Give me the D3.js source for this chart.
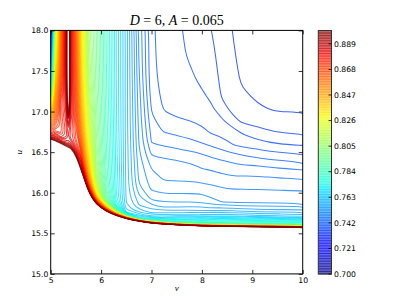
<!DOCTYPE html>
<html>
<head>
<meta charset="utf-8">
<script src="https://cdn.jsdelivr.net/npm/d3@7"></script>
<style>
  body { margin: 0; background: #fff; }
  text { font-family: "DejaVu Sans", sans-serif; }
</style>
</head>
<body>
<svg width="407" height="305"></svg>
<script>
// contour levels: 96 levels from 0.70 to 0.90
const levelMin = 0.7, levelMax = 0.9, levelCount = 96;

const xTicks = [5, 6, 7, 8, 9, 10];
const yTicks = [15.0, 15.5, 16.0, 16.5, 17.0, 17.5, 18.0];
const cbarTicks = [0.700, 0.721, 0.742, 0.763, 0.784, 0.805, 0.826, 0.847, 0.868, 0.889];

// lower edge of the contoured region (the dark red 0.9 line)
const edgeV = [4.9, 5.0, 5.1, 5.2, 5.3, 5.4, 5.5, 5.6, 5.7, 5.8, 5.9, 6.0, 6.25, 6.5, 6.75, 7.0, 7.5, 8.0, 9.0, 10.1];
const edgeU = [16.67, 16.66, 16.64, 16.61, 16.575, 16.55, 16.46, 16.29, 16.07, 15.94, 15.855, 15.80, 15.73, 15.68, 15.65, 15.625, 15.605, 15.592, 15.582, 15.575];

// field estimated on v columns; rows are heights above that edge
const gridV = [4.9, 5.0, 5.05, 5.1, 5.2, 5.3, 5.35, 5.4, 5.5, 5.6, 5.75, 5.9, 6.1, 6.3, 6.5, 6.75,
               7.0, 7.25, 7.5, 7.75, 8.0, 8.2, 8.4, 8.6, 8.8, 9.1, 9.5, 10.1];
const gridH = [-0.05, 0, 0.015, 0.04, 0.08, 0.13, 0.2, 0.3, 0.42, 0.55, 0.7, 0.85, 1.0, 1.15, 1.3, 1.45, 1.6, 1.8, 2.1, 2.6];

const fieldByV = [
  [.9316, .8992, .8916, .8821, .8716, .8621, .8516, .8389, .8158, .7737, .7421, .7253, .7168, .7105, .7042, .6958, .6832, .6684, .6474, .6368],
  [.9316, .8992, .8926, .8842, .8747, .8663, .8579, .8474, .8263, .7884, .7589, .7421, .7316, .7253, .7189, .7105, .7000, .6895, .6684, .6579],
  [.9316, .8992, .8937, .8863, .8779, .8705, .8632, .8547, .8432, .8263, .8053, .7905, .7800, .7716, .7632, .7547, .7421, .7253, .7105, .7000],
  [.9316, .8992, .8947, .8884, .8811, .8747, .8684, .8621, .8558, .8495, .8432, .8368, .8305, .8253, .8200, .8137, .8074, .8011, .7926, .7842],
  [.9316, .8992, .8937, .8863, .8789, .8747, .8737, .8747, .8758, .8737, .8684, .8642, .8611, .8589, .8579, .8568, .8558, .8547, .8537, .8516],
  [.9316, .8992, .8947, .8884, .8842, .8800, .8800, .8811, .8832, .8853, .8869, .8878, .8882, .8884, .8880, .8878, .8874, .8874, .8874, .8874],
  [.9316, .8992, .8958, .8905, .8853, .8832, .8842, .8905, .9011, .9084, .9105, .9126, .9126, .9126, .9126, .9126, .9126, .9126, .9126, .9126],
  [.9316, .8992, .8947, .8884, .8842, .8800, .8800, .8811, .8832, .8842, .8853, .8853, .8853, .8853, .8853, .8853, .8853, .8853, .8853, .8853],
  [.9316, .8992, .8958, .8895, .8832, .8779, .8747, .8737, .8716, .8695, .8678, .8663, .8653, .8642, .8632, .8621, .8611, .8600, .8600, .8579],
  [.9316, .8992, .8958, .8916, .8874, .8811, .8726, .8642, .8579, .8526, .8484, .8453, .8427, .8406, .8389, .8375, .8362, .8352, .8343, .8326],
  [.9316, .8992, .8937, .8853, .8747, .8621, .8516, .8432, .8368, .8305, .8253, .8211, .8179, .8154, .8133, .8116, .8103, .8091, .8074, .8053],
  [.9316, .8992, .8895, .8726, .8516, .8347, .8221, .8137, .8084, .8053, .8032, .8019, .8006, .7998, .7992, .7985, .7981, .7977, .7971, .7968],
  [.9316, .8992, .8789, .8516, .8221, .7968, .7926, .7884, .7867, .7857, .7851, .7844, .7840, .7836, .7832, .7829, .7827, .7825, .7821, .7821],
  [.9316, .8992, .8579, .8158, .7884, .7758, .7726, .7716, .7713, .7709, .7705, .7703, .7701, .7699, .7698, .7697, .7696, .7695, .7695, .7695],
  [.9316, .8992, .8474, .7842, .7653, .7621, .7611, .7606, .7604, .7603, .7602, .7602, .7601, .7600, .7600, .7600, .7600, .7600, .7600, .7600],
  [.9316, .8992, .8011, .7695, .7642, .7594, .7568, .7552, .7531, .7522, .7517, .7509, .7504, .7501, .7497, .7495, .7492, .7487, .7482, .7480],
  [.9316, .8992, .8263, .7758, .7638, .7589, .7554, .7522, .7502, .7493, .7481, .7461, .7441, .7434, .7425, .7418, .7411, .7406, .7404, .7403],
  [.9316, .8992, .8095, .7758, .7653, .7594, .7549, .7518, .7498, .7483, .7476, .7458, .7436, .7418, .7404, .7397, .7394, .7393, .7392, .7392],
  [.9316, .8992, .8053, .7779, .7684, .7602, .7554, .7520, .7499, .7483, .7477, .7455, .7434, .7415, .7402, .7392, .7386, .7384, .7383, .7382],
  [.9316, .8992, .8053, .7789, .7695, .7611, .7558, .7522, .7500, .7483, .7471, .7453, .7428, .7413, .7399, .7392, .7387, .7383, .7377, .7373],
  [.9316, .8992, .8053, .7800, .7705, .7617, .7560, .7521, .7501, .7481, .7464, .7448, .7424, .7405, .7396, .7388, .7382, .7375, .7368, .7364],
  [.9316, .8992, .8053, .7811, .7716, .7621, .7558, .7512, .7494, .7479, .7461, .7441, .7418, .7398, .7389, .7381, .7375, .7369, .7363, .7354],
  [.9316, .8992, .8095, .7811, .7726, .7625, .7562, .7505, .7491, .7475, .7457, .7437, .7411, .7393, .7382, .7366, .7356, .7352, .7349, .7347],
  [.9316, .8992, .8095, .7811, .7726, .7625, .7560, .7503, .7489, .7473, .7453, .7433, .7401, .7391, .7366, .7352, .7348, .7345, .7340, .7335],
  [.9316, .8992, .8095, .7811, .7726, .7625, .7558, .7502, .7489, .7473, .7452, .7427, .7396, .7378, .7354, .7347, .7341, .7334, .7331, .7328],
  [.9316, .8992, .8095, .7821, .7726, .7619, .7554, .7503, .7489, .7473, .7453, .7421, .7391, .7366, .7351, .7340, .7334, .7331, .7327, .7326],
  [.9316, .8992, .8074, .7821, .7720, .7617, .7554, .7503, .7488, .7472, .7447, .7415, .7382, .7359, .7346, .7334, .7329, .7327, .7325, .7324],
  [.9316, .8992, .8053, .7821, .7726, .7615, .7556, .7503, .7488, .7471, .7443, .7409, .7380, .7357, .7345, .7335, .7331, .7327, .7324, .7322]
];

const svg = d3.select("svg");
const plot = { left: 50.7, right: 302.7, top: 30.4, bottom: 273.9 };

const x = d3.scaleLinear().domain([5, 10]).range([plot.left, plot.right]);
const y = d3.scaleLinear().domain([15, 18]).range([plot.bottom, plot.top]);

// jet colormap
const jetR = d3.scaleLinear().domain([0, 0.35, 0.66, 0.89, 1]).range([0, 0, 1, 1, 0.5]).clamp(true);
const jetG = d3.scaleLinear().domain([0, 0.125, 0.375, 0.64, 0.91, 1]).range([0, 0, 1, 1, 0, 0]).clamp(true);
const jetB = d3.scaleLinear().domain([0, 0.11, 0.34, 0.65, 1]).range([0.5, 1, 1, 0, 0]).clamp(true);
const jet = t => d3.rgb(jetR(t) * 255, jetG(t) * 255, jetB(t) * 255).formatHex();
const norm = d3.scaleLinear().domain([levelMin, levelMax]).range([0, 1]);

const thresholds = d3.range(levelCount).map(i => levelMin + i * (levelMax - levelMin) / (levelCount - 1));

// grid -> values (row major)
const nx = gridV.length, ny = gridH.length;
const values = [];
for (let j = 0; j < ny; j++)
  for (let i = 0; i < nx; i++)
    values.push(fieldByV[i][j]);

const contours = d3.contours().size([nx, ny]).thresholds(thresholds)(values);

const vAt = d3.scaleLinear().domain(d3.range(nx)).range(gridV).clamp(true);
const hAt = d3.scaleLinear().domain(d3.range(ny)).range(gridH).clamp(true);
const edgeAt = d3.scaleLinear().domain(edgeV).range(edgeU).clamp(true);

const toPx = p => {
  const v = vAt(p[0] - 0.5);
  const u = edgeAt(v) + hAt(p[1] - 0.5);
  return [x(v), y(u)];
};
const onBorder = (a, b) =>
  (a[0] === 0 && b[0] === 0) || (a[0] === nx && b[0] === nx) ||
  (a[1] === 0 && b[1] === 0) || (a[1] === ny && b[1] === ny);

const lineOpen = d3.line().curve(d3.curveBasis);
const lineClosed = d3.line().curve(d3.curveBasisClosed);

svg.append("defs").append("clipPath").attr("id", "plotClip")
  .append("rect")
    .attr("x", plot.left).attr("y", plot.top)
    .attr("width", plot.right - plot.left).attr("height", plot.bottom - plot.top);

const graph = svg.append("g").attr("clip-path", "url(#plotClip)");

contours.forEach(c => {
  let d = "";
  c.coordinates.forEach(poly => poly.forEach(ring => {
    const runs = [];
    let run = [ring[0]], broken = false;
    for (let i = 1; i < ring.length; i++) {
      if (onBorder(ring[i - 1], ring[i])) {
        broken = true;
        if (run.length > 1) runs.push(run);
        run = [ring[i]];
      } else run.push(ring[i]);
    }
    if (run.length > 1) runs.push(run);
    if (!broken) {
      d += lineClosed(ring.slice(0, -1).map(toPx));
      return;
    }
    // join the piece that wraps round the ring start
    if (runs.length > 1 && !onBorder(ring[0], ring[1]) &&
        !onBorder(ring[ring.length - 2], ring[ring.length - 1])) {
      const last = runs.pop();
      runs[0] = last.concat(runs[0].slice(1));
    }
    runs.forEach(r => d += lineOpen(r.map(toPx)));
  }));
  graph.append("path")
    .attr("d", d)
    .attr("fill", "none")
    .attr("stroke", jet(norm(c.value)))
    .attr("stroke-opacity", 0.75)
    .attr("stroke-width", 1.05);
});

// axes
const fontSize = 7.7;
const xAxisGroup = svg.append("g").attr("transform", `translate(0, ${plot.bottom})`);
d3.axisBottom(x).tickValues(xTicks).tickSizeInner(-4).tickSizeOuter(0).tickPadding(3.6)
  .tickFormat(d3.format("d"))(xAxisGroup);
const yAxisGroup = svg.append("g").attr("transform", `translate(${plot.left}, 0)`);
d3.axisLeft(y).tickValues(yTicks).tickSizeInner(-4).tickSizeOuter(0).tickPadding(2.4)
  .tickFormat(d3.format(".1f"))(yAxisGroup);
const topAxisGroup = svg.append("g").attr("transform", `translate(0, ${plot.top})`);
d3.axisTop(x).tickValues(xTicks).tickSizeInner(-4).tickSizeOuter(0).tickFormat("")(topAxisGroup);
const rightAxisGroup = svg.append("g").attr("transform", `translate(${plot.right}, 0)`);
d3.axisRight(y).tickValues(yTicks).tickSizeInner(-4).tickSizeOuter(0).tickFormat("")(rightAxisGroup);

svg.selectAll(".domain").remove();
svg.selectAll(".tick text")
  .attr("font-size", fontSize)
  .attr("font-family", "DejaVu Sans, sans-serif")
  .attr("fill", "#000");
svg.selectAll(".tick line").attr("stroke", "#000").attr("stroke-width", 0.8);

svg.append("rect")
  .attr("x", plot.left).attr("y", plot.top)
  .attr("width", plot.right - plot.left).attr("height", plot.bottom - plot.top)
  .attr("fill", "none").attr("stroke", "#000").attr("stroke-width", 1);

// colorbar
const cb = { left: 318.3, right: 331.5, top: 30.5, bottom: 274 };
const cy = d3.scaleLinear().domain([levelMin, levelMax]).range([cb.bottom, cb.top]);
const cbar = svg.append("g");
cbar.selectAll("rect.band")
  .data(thresholds.slice(0, -1))
  .enter().append("rect")
    .attr("class", "band")
    .attr("x", cb.left)
    .attr("width", cb.right - cb.left)
    .attr("y", (d, i) => cy(thresholds[i + 1]))
    .attr("height", (d, i) => cy(d) - cy(thresholds[i + 1]))
    .attr("fill", (d, i) => jet(norm((d + thresholds[i + 1]) / 2)))
    .attr("fill-opacity", 0.6);
cbar.selectAll("line.lev")
  .data(thresholds)
  .enter().append("line")
    .attr("class", "lev")
    .attr("x1", cb.left).attr("x2", cb.right)
    .attr("y1", d => cy(d)).attr("y2", d => cy(d))
    .attr("stroke", d => jet(norm(d)))
    .attr("stroke-opacity", 0.75)
    .attr("stroke-width", 0.9);
cbar.append("rect")
  .attr("x", cb.left).attr("y", cb.top)
  .attr("width", cb.right - cb.left).attr("height", cb.bottom - cb.top)
  .attr("fill", "none").attr("stroke", "#333").attr("stroke-width", 1);
cbar.selectAll("line.tk")
  .data(cbarTicks)
  .enter().append("line")
    .attr("class", "tk")
    .attr("x1", cb.right - 3).attr("x2", cb.right)
    .attr("y1", d => cy(d)).attr("y2", d => cy(d))
    .attr("stroke", "#000").attr("stroke-width", 0.8);
cbar.selectAll("text")
  .data(cbarTicks)
  .enter().append("text")
    .attr("x", cb.right + 2.5)
    .attr("y", d => cy(d))
    .attr("dy", "0.35em")
    .attr("font-size", fontSize)
    .text(d3.format(".3f"));

// title and axis labels
const title = svg.append("text")
  .attr("x", (plot.left + plot.right) / 2)
  .attr("y", 24.5)
  .attr("text-anchor", "middle")
  .attr("font-size", 14)
  .style("font-family", "Liberation Serif, serif");
title.append("tspan").attr("font-style", "italic").text("D");
title.append("tspan").text(" = 6,  ");
title.append("tspan").attr("font-style", "italic").text("A");
title.append("tspan").text(" = 0.065");

svg.append("text")
  .attr("x", (plot.left + plot.right) / 2)
  .attr("y", 290.5)
  .attr("text-anchor", "middle")
  .attr("font-size", 9)
  .attr("font-style", "italic")
  .attr("fill", "#000")
  .style("font-family", "Liberation Serif, serif")
  .text("v");

svg.append("text")
  .attr("transform", `translate(22, ${(plot.top + plot.bottom) / 2}) rotate(-90)`)
  .attr("text-anchor", "middle")
  .attr("font-size", 9)
  .attr("font-style", "italic")
  .attr("fill", "#000")
  .style("font-family", "Liberation Serif, serif")
  .text("u");
</script>
</body>
</html>
